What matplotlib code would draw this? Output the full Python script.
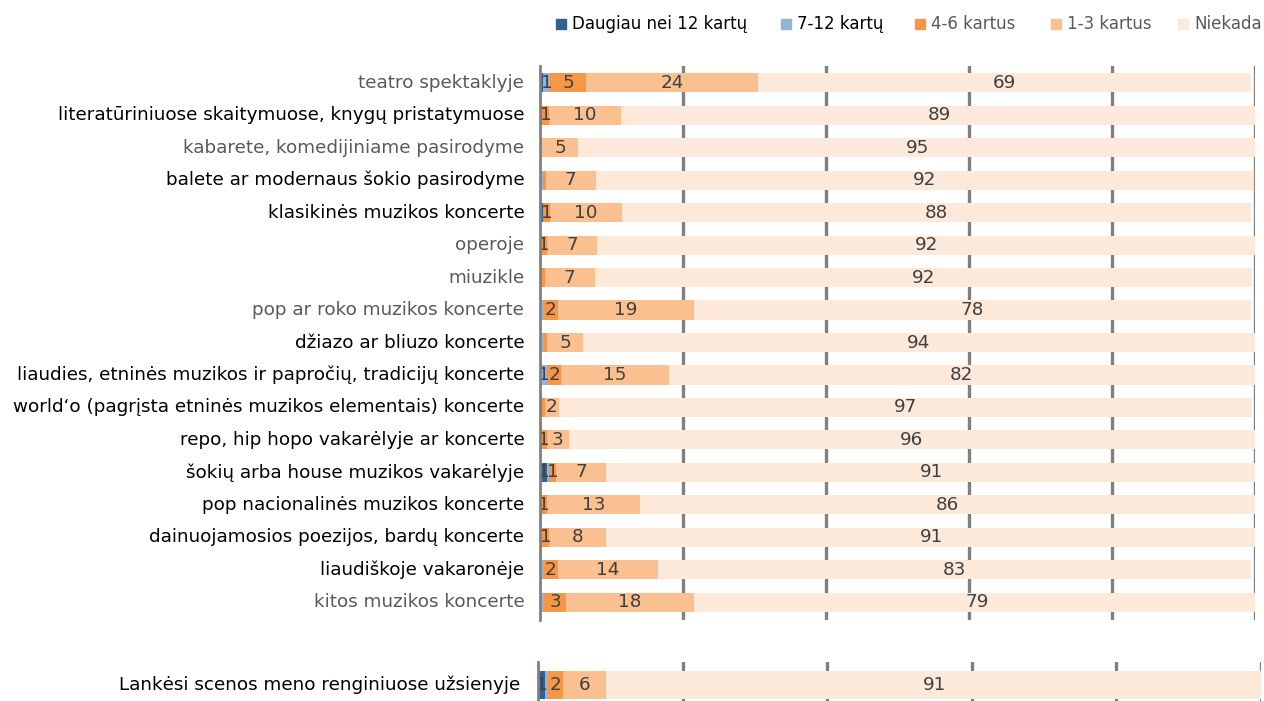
import matplotlib
matplotlib.use("Agg")
import matplotlib.pyplot as plt
from matplotlib.patches import Rectangle

plt.rcParams['font.family'] = ['DejaVu Sans']

categories = [
    "teatro spektaklyje",
    "literatūriniuose skaitymuose, knygų pristatymuose",
    "kabarete, komedijiniame pasirodyme",
    "balete ar modernaus šokio pasirodyme",
    "klasikinės muzikos koncerte",
    "operoje",
    "miuzikle",
    "pop ar roko muzikos koncerte",
    "džiazo ar bliuzo koncerte",
    "liaudies, etninės muzikos ir papročių, tradicijų koncerte",
    "world‘o (pagrįsta etninės muzikos elementais) koncerte",
    "repo, hip hopo vakarėlyje ar koncerte",
    "šokių arba house muzikos vakarėlyje",
    "pop nacionalinės muzikos koncerte",
    "dainuojamosios poezijos, bardų koncerte",
    "liaudiškoje vakaronėje",
    "kitos muzikos koncerte",
]
# categories whose label is printed in lighter grey
grey_labels = {0, 2, 5, 6, 7, 16}

series = ["Daugiau nei 12 kartų", "7-12 kartų", "4-6 kartus", "1-3 kartus", "Niekada"]
colors = ["#366092", "#95B3D7", "#F79646", "#FAC090", "#FDE9D9"]

more_12 = [0.45, 0.3, 0.0, 0.2, 0.45, 0.0, 0.2, 0.0, 0.2, 0.0, 0.2, 0.0, 1, 0.0, 0.0, 0.0, 0.2]
k7_12 =   [1, 0.0, 0.0, 0.2, 0.0, 0.0, 0.0, 0.5, 0.3, 1, 0.0, 0.0, 0.3, 0.0, 0.3, 0.5, 0.4]
k4_6 =    [5, 1, 0.3, 0.4, 1, 1, 0.45, 2, 0.5, 2, 0.45, 1, 1, 1, 1, 2, 3]
k1_3 =    [24, 10, 5, 7, 10, 7, 7, 19, 5, 15, 2, 3, 7, 13, 8, 14, 18]
never =   [69, 89, 95, 92, 88, 92, 92, 78, 94, 82, 97, 96, 91, 86, 91, 83, 79]

abroad_label = "Lankėsi scenos meno renginiuose užsienyje"
abroad = [1, 0.4, 2, 6, 91]

table = [more_12, k7_12, k4_6, k1_3, never]

W, H = 1264, 701
fig = plt.figure(figsize=(W / 100, H / 100), dpi=100)

grid_color = "#808080"
label_color = "#404040"
fs = 13.2


def setup_axes(ax):
    ax.set_xlim(0, 100)
    ax.set_xticks([])
    ax.set_yticks([])
    for s in ["top", "right", "bottom"]:
        ax.spines[s].set_visible(False)
    ax.spines["left"].set_color(grid_color)
    ax.spines["left"].set_linewidth(2.0)
    ax.spines["left"].set_zorder(5)
    for g in [20, 40, 60, 80, 100]:
        ax.axvline(g, color=grid_color, lw=2.4, zorder=0)


def draw_row(ax, y, values, height):
    left = 0.0
    for v, c in zip(values, colors):
        if v > 0:
            ax.barh(y, v, left=left, height=height, color=c, zorder=2, linewidth=0)
            if v >= 1:
                ax.text(left + v / 2, y, f"{v:g}", ha="center", va="center",
                        fontsize=fs, color=label_color, zorder=4)
        left += v


# main panel
x0, x1 = 540, 1255
top, bot = 66, 620
ax = fig.add_axes([x0 / W, 1 - bot / H, (x1 - x0) / W, (bot - top) / H])
setup_axes(ax)
n = len(categories)
for i in range(n):
    draw_row(ax, i, [t[i] for t in table], 0.59)
ax.set_ylim(n - 0.45, -0.52)
for i, cat in enumerate(categories):
    grey = i in grey_labels
    ax.text(-2.2, i, cat, ha="right", va="center", fontsize=fs,
            color="#595959" if grey else "#000000", clip_on=False)

# separate panel for the abroad row
bx0, bx1 = 538, 1261
ax2 = fig.add_axes([bx0 / W, 1 - 708 / H, (bx1 - bx0) / W, 46 / H])
setup_axes(ax2)
draw_row(ax2, 0, abroad, 1.0)
ax2.set_ylim(-0.82, 0.82)
ax2.text(-2.5, 0, abroad_label, ha="right", va="center", fontsize=fs,
         color="#000000", clip_on=False)

# legend across the top
legend_x = [561, 786, 920, 1056, 1183]
legend_text_color = ["#000000", "#000000", "#595959", "#595959", "#595959"]
ly = 24
for lx, name, c, tc in zip(legend_x, series, colors, legend_text_color):
    fig.patches.append(Rectangle(((lx - 5) / W, 1 - (ly + 5) / H), 10 / W, 10 / H,
                                 transform=fig.transFigure, color=c, figure=fig))
    fig.text((lx + 11) / W, 1 - ly / H, name, ha="left", va="center",
             fontsize=12, color=tc)

fig.savefig("out.png", dpi=100)
